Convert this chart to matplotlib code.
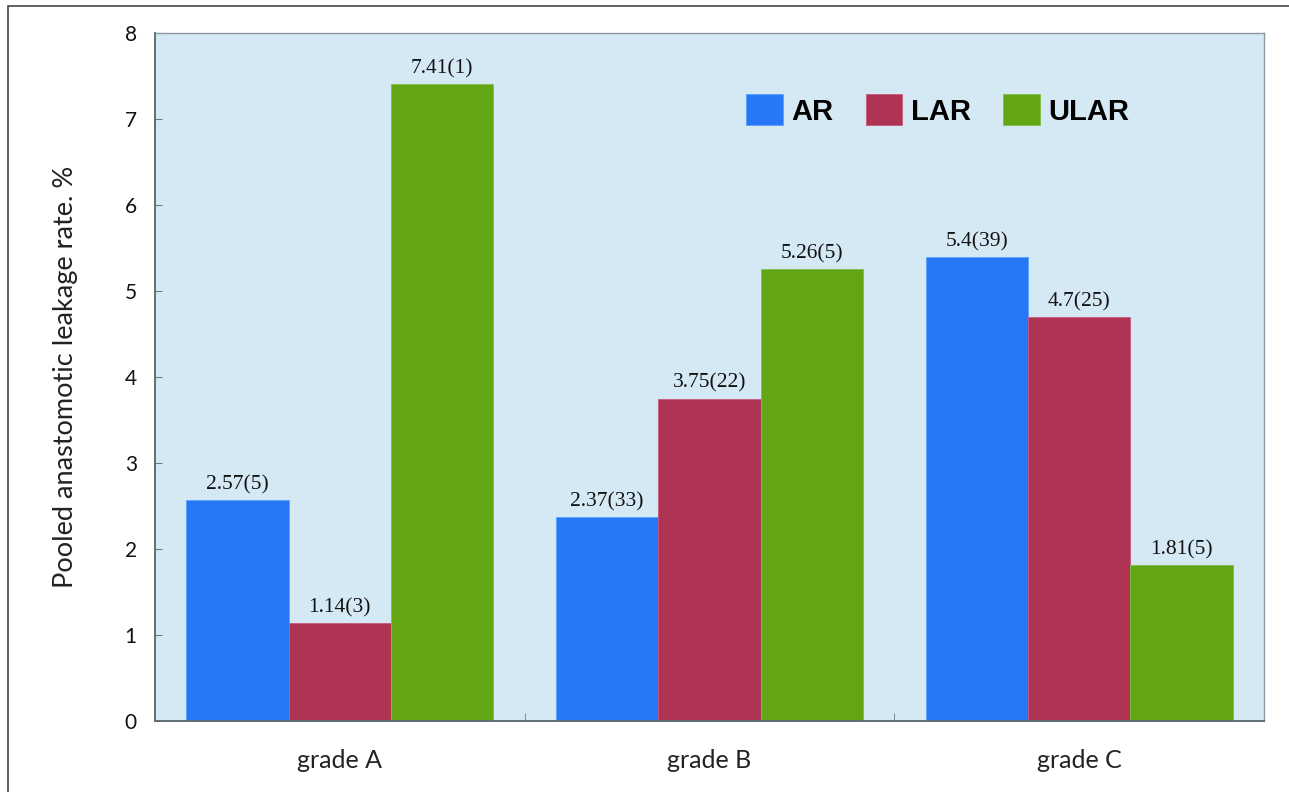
import matplotlib
matplotlib.use('Agg')
import matplotlib.pyplot as plt
import numpy as np
from matplotlib.patches import Rectangle

# data
grades = ['grade A', 'grade B', 'grade C']
series = ['AR', 'LAR', 'ULAR']
ar_vals = [2.57, 2.37, 5.4]
lar_vals = [1.14, 3.75, 4.7]
ular_vals = [7.41, 5.26, 1.81]
ar_labels = ['2.57(5)', '2.37(33)', '5.4(39)']
lar_labels = ['1.14(3)', '3.75(22)', '4.7(25)']
ular_labels = ['7.41(1)', '5.26(5)', '1.81(5)']

colors = ['#2777F7', '#AF3352', '#62A515']
edges = ['#5AA0FF', '#C8577A', '#7CC040']

fig = plt.figure(figsize=(12.89, 7.92), dpi=100)
ax = fig.add_axes([0.1202, 0.0896, 0.8604, 0.8687])
ax.set_facecolor('#D5E9F5')

# outer frame (top and left visible, rest cut off by figure edge)
fig.patches.append(Rectangle((0.0062, -0.05), 1.1, 1.0424, transform=fig.transFigure,
                             fill=False, edgecolor='#444444', linewidth=1.2))

x = np.arange(len(grades))
w = 0.277
all_vals = [ar_vals, lar_vals, ular_vals]
all_labels = [ar_labels, lar_labels, ular_labels]
for i, (vals, labs) in enumerate(zip(all_vals, all_labels)):
    bars = ax.bar(x + (i - 1) * w, vals, width=w, color=colors[i],
                  edgecolor=edges[i], linewidth=0.6, label=series[i], zorder=2)
    ax.bar_label(bars, labels=labs, padding=4, fontsize=15.5,
                 family='Liberation Serif', color='#111111')

ax.set_xlim(-0.5, 2.5)
ax.set_ylim(0, 8)
ax.set_yticks(range(0, 9))
ax.set_xticks(x)
ax.set_xticklabels(grades, fontsize=18, family='Lato', color='#222222')
ax.set_xticks([0.5, 1.5], minor=True)
ax.tick_params(axis='x', which='major', length=0, pad=20)
ax.tick_params(axis='x', which='minor', length=6, direction='in', color='#6d7a80')
ax.tick_params(axis='y', direction='in', length=5, color='#6d7a80', labelsize=15, pad=13)
for t in ax.get_yticklabels():
    t.set_family('Lato')
    t.set_color('#111111')

for s in ax.spines.values():
    s.set_color('#8A99A2')
    s.set_linewidth(1.0)
ax.spines['left'].set_color('#5f6d74')
ax.spines['bottom'].set_color('#5f6d74')
ax.spines['left'].set_linewidth(1.4)
ax.spines['bottom'].set_linewidth(1.4)

ax.set_ylabel('Pooled anastomotic leakage rate. %', fontsize=19.5, family='Lato',
              color='#222222', labelpad=34)

leg = ax.legend(loc='center', bbox_to_anchor=(0.706, 0.888), ncol=3, frameon=False,
                handlelength=1.25, handleheight=1.25, handletextpad=0.3,
                columnspacing=1.1, prop={'family': 'Liberation Sans', 'weight': 'bold', 'size': 21})

fig.savefig('out.png', dpi=100)
